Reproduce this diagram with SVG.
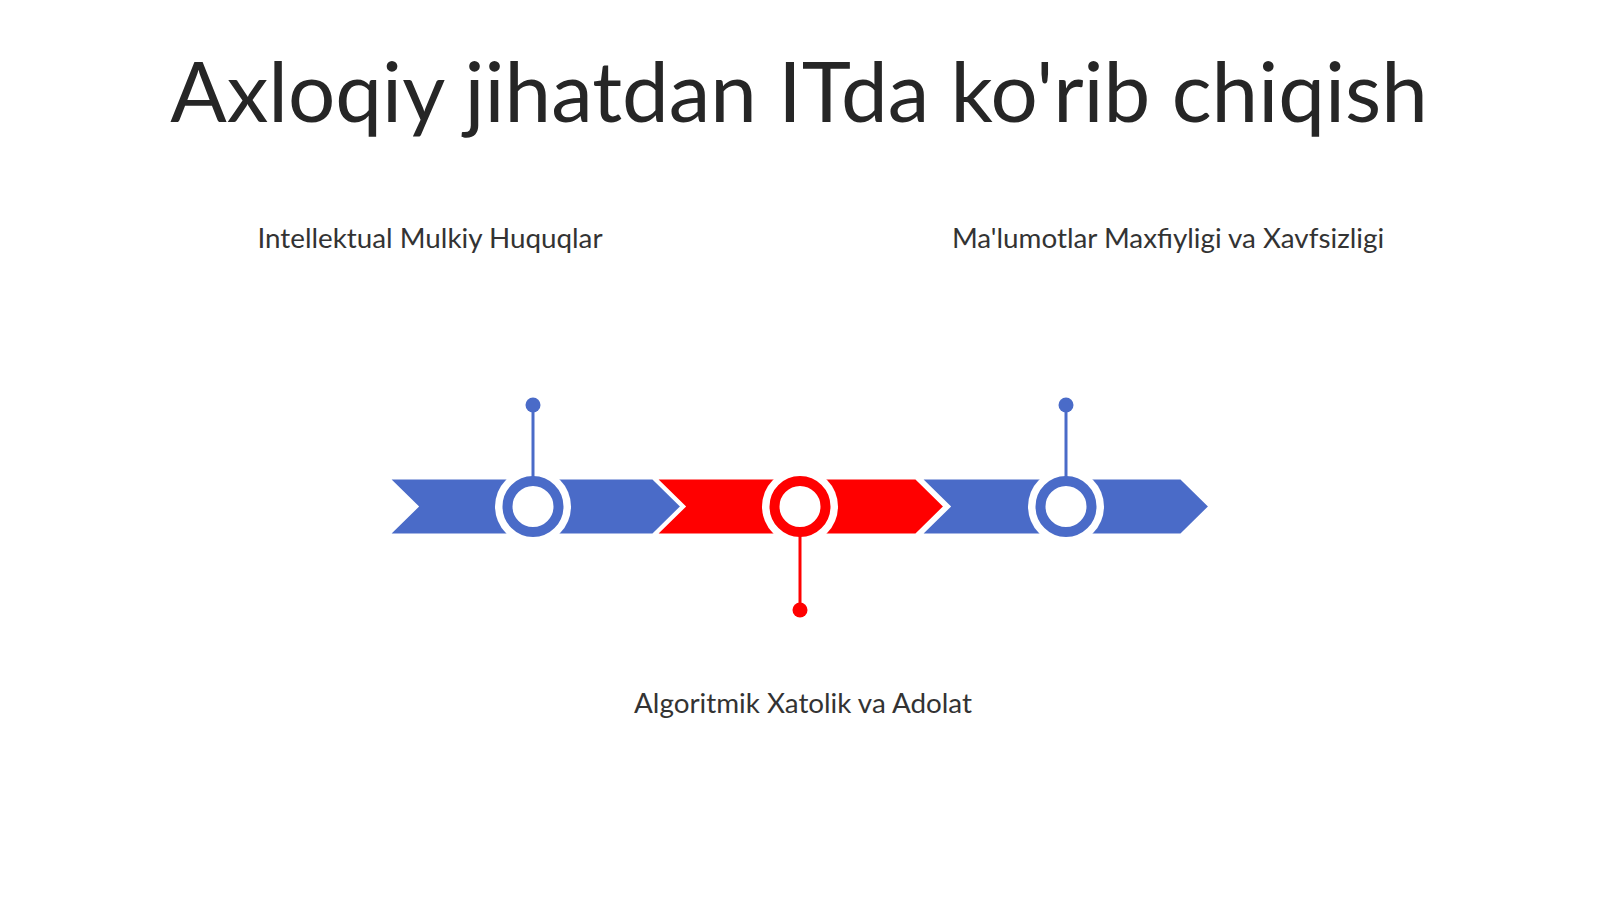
<svg xmlns="http://www.w3.org/2000/svg" width="1600" height="899" viewBox="0 0 1600 899">
  <style>
    .title { font-family: Lato, "Liberation Sans", sans-serif; font-size: 83.5px; fill: #262626; }
    .label { font-family: Lato, "Liberation Sans", sans-serif; font-size: 27.8px; fill: #333333; }
    .blue { fill: #4a6bc8; stroke: #ffffff; stroke-width: 3; stroke-linejoin: miter; }
    .red { fill: #ff0000; stroke: #ffffff; stroke-width: 3; stroke-linejoin: miter; }
    .halo { fill: #ffffff; }
    .ringB { fill: #ffffff; stroke: #4a6bc8; stroke-width: 10; }
    .ringR { fill: #ffffff; stroke: #ff0000; stroke-width: 10; }
    .pinB { stroke: #4a6bc8; stroke-width: 3; }
    .pinR { stroke: #ff0000; stroke-width: 3; }
  </style>
  <rect width="1600" height="899" fill="#ffffff"/>
  <text class="title" x="799" y="122" text-anchor="middle">Axloqiy jihatdan ITda ko'rib chiqish</text>

  <g id="arrows">
    <polygon id="seg1" class="blue" points="388,478 653,478 682,506.5 653,535 388,535 417,506.5"/>
    <polygon id="seg2" class="red" points="655,478 916,478 945,506.5 916,535 655,535 684,506.5"/>
    <polygon id="seg3" class="blue" points="920,478 1181,478 1210,506.5 1181,535 920,535 949,506.5"/>
  </g>

  <g id="node1">
    <circle class="halo" cx="533" cy="506.5" r="38"/>
    <circle class="ringB" cx="533" cy="506.5" r="25.5"/>
    <text class="label" x="430" y="248" text-anchor="middle">Intellektual Mulkiy Huquqlar</text>
  </g>
  <g id="node2">
    <circle class="halo" cx="800" cy="506.5" r="38"/>
    <circle class="ringR" cx="800" cy="506.5" r="25.5"/>
    <text class="label" x="803" y="713" text-anchor="middle">Algoritmik Xatolik va Adolat</text>
  </g>
  <g id="node3">
    <circle class="halo" cx="1066" cy="506.5" r="38"/>
    <circle class="ringB" cx="1066" cy="506.5" r="25.5"/>
    <text class="label" x="1168" y="248" text-anchor="middle">Ma'lumotlar Maxfiyligi va Xavfsizligi</text>
  </g>

  <g id="connectors">
    <line class="pinB" x1="533" y1="405" x2="533" y2="477"/>
    <line class="pinR" x1="800" y1="536" x2="800" y2="610"/>
    <line class="pinB" x1="1066" y1="405" x2="1066" y2="477"/>
    <circle cx="533" cy="405" r="7.5" fill="#4a6bc8"/>
    <circle cx="800" cy="610" r="7.5" fill="#ff0000"/>
    <circle cx="1066" cy="405" r="7.5" fill="#4a6bc8"/>
  </g>
</svg>
